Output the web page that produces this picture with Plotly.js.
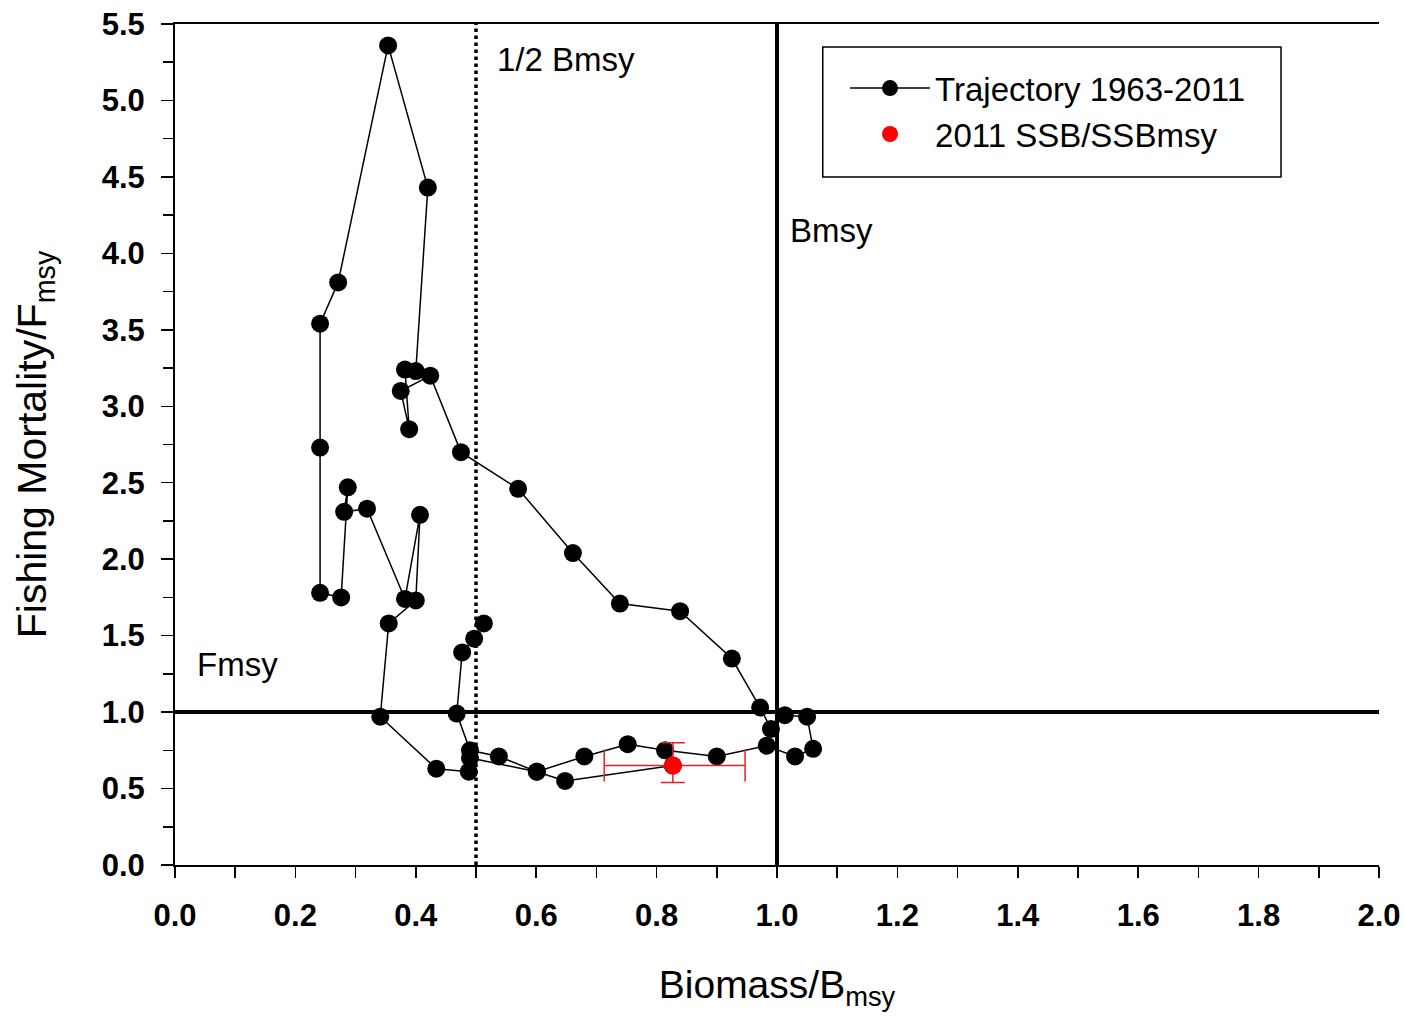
<!DOCTYPE html>
<html>
<head>
<meta charset="utf-8">
<script src="https://cdn.plot.ly/plotly-3.0.1.min.js"></script>
<style>html,body{margin:0;padding:0;background:#fff;}#chart{width:1405px;height:1017px;}</style>
</head>
<body>
<div id="chart"></div>
<script>
// Trajectory points (Biomass/Bmsy, Fishing mortality/Fmsy) in path order
const biomass = [0.513,0.497,0.477,0.468,0.490,0.538,0.601,0.680,0.752,0.814,
                 0.900,0.983,1.030,1.060,1.050,1.013,0.990,0.972,0.925,0.839,
                 0.739,0.661,0.570,0.475,0.424,0.375,0.389,0.382,0.400,0.420,
                 0.354,0.271,0.241,0.241,0.241,0.276,0.287,0.281,0.319,0.382,
                 0.407,0.400,0.355,0.341,0.434,0.488,0.490,0.601,0.648,0.827];
const fishing = [1.58,1.48,1.39,0.99,0.75,0.71,0.61,0.71,0.79,0.75,
                 0.71,0.78,0.71,0.76,0.97,0.98,0.89,1.03,1.35,1.66,
                 1.71,2.04,2.46,2.70,3.20,3.10,2.85,3.24,3.23,4.43,
                 5.36,3.81,3.54,2.73,1.78,1.75,2.47,2.31,2.33,1.74,
                 2.29,1.73,1.58,0.97,0.63,0.61,0.70,0.61,0.55,0.65];
// 2011 SSB/SSBmsy estimate with uncertainty
const ssb2011 = [0.827];
const f2011 = [0.65];
const ssbErrPlus = [0.12];
const ssbErrMinus = [0.114];
const fErrPlus = [0.15];
const fErrMinus = [0.11];
// Reference points
const BMSY = 1.0, HALF_BMSY = 0.5, FMSY = 1.0;
const xRange = [0, 2.0], yRange = [0, 5.5];

const FONT = 'Liberation Sans, Arial, sans-serif';

const traces = [
  {
    x: biomass, y: fishing, type: 'scatter', mode: 'lines+markers',
    name: 'Trajectory 1963-2011',
    line: {color: '#000', width: 1.5},
    marker: {color: '#000', size: 18, symbol: 'circle'},
    cliponaxis: false
  },
  {
    x: ssb2011, y: f2011, type: 'scatter', mode: 'markers',
    name: '2011 SSB/SSBmsy',
    marker: {color: '#ff0000', size: 18, symbol: 'circle'},
    error_x: {type: 'data', symmetric: false, array: ssbErrPlus, arrayminus: ssbErrMinus,
              color: '#e8202a', thickness: 1.5, width: 16},
    error_y: {type: 'data', symmetric: false, array: fErrPlus, arrayminus: fErrMinus,
              color: '#e8202a', thickness: 1.5, width: 12}
  }
];

const layout = {
  width: 1405, height: 1017,
  margin: {l: 175, r: 26, t: 24, b: 152, pad: 0},
  paper_bgcolor: '#fff', plot_bgcolor: '#fff',
  font: {family: FONT, color: '#000'},
  showlegend: true,
  legend: {
    x: 0.5565, y: 0.957, xanchor: 'left', yanchor: 'top',
    borderwidth: 0, bgcolor: 'rgba(0,0,0,0)',
    font: {family: FONT, size: 33, color: '#000'},
    tracegroupgap: 0, itemwidth: 80
  },
  xaxis: {
    range: xRange, dtick: 0.2, tick0: 0, tickformat: '.1f',
    showgrid: false, zeroline: false,
    showline: true, linecolor: '#000', linewidth: 2, mirror: true,
    ticks: 'outside', ticklen: 11, tickwidth: 1.5, tickcolor: '#000',
    minor: {dtick: 0.1, ticks: 'outside', ticklen: 11, tickwidth: 1.5, tickcolor: '#000', showgrid: false},
    tickfont: {family: FONT, size: 31, color: '#000', weight: 'bold'},
    ticklabelstandoff: 11,
    title: {text: 'Biomass/B<sub>msy</sub>', font: {family: FONT, size: 39, color: '#000'}, standoff: 38}
  },
  yaxis: {
    range: yRange, dtick: 0.5, tick0: 0, tickformat: '.1f',
    showgrid: false, zeroline: false,
    showline: true, linecolor: '#000', linewidth: 2,
    ticks: 'outside', ticklen: 12, tickwidth: 1.5, tickcolor: '#000',
    minor: {dtick: 0.25, ticks: 'outside', ticklen: 10, tickwidth: 1.5, tickcolor: '#000', showgrid: false},
    tickfont: {family: FONT, size: 31, color: '#000', weight: 'bold'},
    ticklabelstandoff: 10,
    title: {text: 'Fishing Mortality/F<sub>msy</sub>', font: {family: FONT, size: 41, color: '#000'}, standoff: 42}
  },
  shapes: [
    {type: 'line', xref: 'x', yref: 'y', x0: HALF_BMSY, x1: HALF_BMSY, y0: yRange[0], y1: yRange[1],
     line: {color: '#000', width: 3.5, dash: 'dot'}, layer: 'below'},
    {type: 'line', xref: 'x', yref: 'y', x0: BMSY, x1: BMSY, y0: yRange[0], y1: yRange[1],
     line: {color: '#000', width: 4}, layer: 'below'},
    {type: 'line', xref: 'x', yref: 'y', x0: xRange[0], x1: xRange[1], y0: FMSY, y1: FMSY,
     line: {color: '#000', width: 4}, layer: 'below'},
    // legend frame
    {type: 'rect', xref: 'paper', yref: 'paper', x0: 0.538, x1: 0.9186, y0: 0.818, y1: 0.9727,
     line: {color: '#000', width: 1.5}, fillcolor: '#fff', layer: 'above'}
  ],
  annotations: [
    {xref: 'x', yref: 'y', x: 0.532, y: 5.27, text: '1/2 Bmsy', showarrow: false,
     xanchor: 'left', yanchor: 'middle', font: {family: FONT, size: 33, color: '#000'}},
    {xref: 'x', yref: 'y', x: 1.018, y: 4.15, text: 'Bmsy', showarrow: false,
     xanchor: 'left', yanchor: 'middle', font: {family: FONT, size: 33, color: '#000'}},
    {xref: 'x', yref: 'y', x: 0.033, y: 1.31, text: 'Fmsy', showarrow: false,
     xanchor: 'left', yanchor: 'middle', font: {family: FONT, size: 33, color: '#000'}}
  ]
};

Plotly.newPlot('chart', traces, layout, {displayModeBar: false, staticPlot: true});
</script>
</body>
</html>
